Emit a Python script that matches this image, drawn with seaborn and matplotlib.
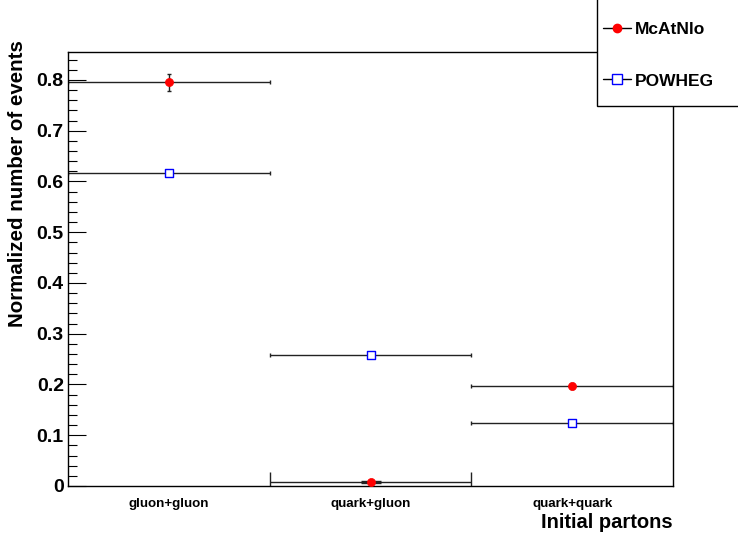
import matplotlib
matplotlib.use("Agg")
import matplotlib.pyplot as plt
from matplotlib.lines import Line2D
from matplotlib.patches import Rectangle
from matplotlib.ticker import MultipleLocator
import numpy as np
import pandas as pd
import seaborn as sns

categories = ["gluon+gluon", "quark+gluon", "quark+quark"]
mcatnlo = [0.795, 0.008, 0.197]
mcatnlo_err = [0.016, 0.002, 0.005]
powheg = [0.617, 0.258, 0.124]
powheg_err = [0.003, 0.003, 0.002]
series_names = ["McAtNlo", "POWHEG"]

sns.set_style("ticks")
plt.rcParams["font.family"] = ["Liberation Sans", "DejaVu Sans"]
plt.rcParams["font.weight"] = "bold"
for k in ["text.color", "axes.labelcolor", "xtick.color", "ytick.color",
          "axes.edgecolor"]:
    plt.rcParams[k] = "black"

W, H = 738, 536
fig = plt.figure(figsize=(W / 100, H / 100), dpi=100)
ax = fig.add_axes([68 / W, 1 - 486 / H, (673 - 68) / W, (486 - 52) / H])

xpos = np.arange(len(categories))
df = pd.DataFrame({
    "x": np.concatenate([xpos, xpos]),
    "y": mcatnlo + powheg,
    "err": mcatnlo_err + powheg_err,
    "series": [series_names[0]] * 3 + [series_names[1]] * 3,
})

# error bars (horizontal = bin width, vertical = stat error)
caps = {series_names[0]: [1.5, 7, 1.5], series_names[1]: [1.5, 1.5, 1.5]}
for name in series_names:
    sub = df[df["series"] == name].reset_index(drop=True)
    for i, row in sub.iterrows():
        ax.errorbar(row["x"], row["y"], xerr=0.5, yerr=row["err"], fmt="none",
                    ecolor="#222222", elinewidth=1.0, capsize=caps[name][i],
                    capthick=1.0, zorder=2)

sns.scatterplot(data=df[df["series"] == "McAtNlo"], x="x", y="y", ax=ax,
                marker="o", s=34, color="red", edgecolor="red", linewidth=0.5,
                zorder=3, legend=False)
sns.scatterplot(data=df[df["series"] == "POWHEG"], x="x", y="y", ax=ax,
                marker="s", s=36, facecolor="white", edgecolor="blue",
                linewidth=1.0, zorder=3, legend=False)

ax.set_xlim(-0.5, 2.5)
ax.set_ylim(0, 0.855)
ax.set_xticks(xpos)
ax.set_xticklabels(categories, fontsize=9.6, fontweight="bold")
ax.yaxis.set_minor_locator(MultipleLocator(0.02))
ax.set_yticks([0, 0.1, 0.2, 0.3, 0.4, 0.5, 0.6, 0.7, 0.8])
ax.set_yticklabels(["0", "0.1", "0.2", "0.3", "0.4", "0.5", "0.6", "0.7", "0.8"],
                   fontsize=14, fontweight="bold")
ax.tick_params(axis="y", which="major", direction="in", length=13, width=0.8,
               pad=3, color="black")
ax.tick_params(axis="y", which="minor", direction="in", length=6.5, width=0.8,
               color="black")
ax.tick_params(axis="x", which="both", length=0, pad=9)
ax.set_xlabel("")
ax.set_ylabel("")
for sp in ax.spines.values():
    sp.set_visible(True)
    sp.set_linewidth(1.0)
    sp.set_color("black")

fig.text(18 / W, 1 - 40 / H, "Normalized number of events", rotation=90,
         ha="center", va="top", fontsize=14.8, fontweight="bold")
fig.text(673 / W, 1 - 522 / H, "Initial partons", ha="right", va="center",
         fontsize=14.5, fontweight="bold")

# legend box
rect = Rectangle((597 / W, 1 - 106 / H), (W - 597 + 5) / W, 110 / H,
                 transform=fig.transFigure, facecolor="white",
                 edgecolor="black", linewidth=1.0, zorder=4)
fig.patches.append(rect)
handles = [
    Line2D([], [], color="black", lw=1, marker="o", markersize=6,
           markerfacecolor="red", markeredgecolor="red"),
    Line2D([], [], color="black", lw=1, marker="s", markersize=6.5,
           markerfacecolor="white", markeredgecolor="blue", markeredgewidth=1),
]
leg = fig.legend(handles, series_names, loc="center left",
                 bbox_to_anchor=(594 / W, 1 - 55 / H), frameon=False,
                 borderpad=0, handlelength=1.65, handletextpad=0.2,
                 labelspacing=2.12, prop={"size": 12.5, "weight": "bold"})
leg.set_zorder(5)

fig.savefig("out.png", dpi=100)
